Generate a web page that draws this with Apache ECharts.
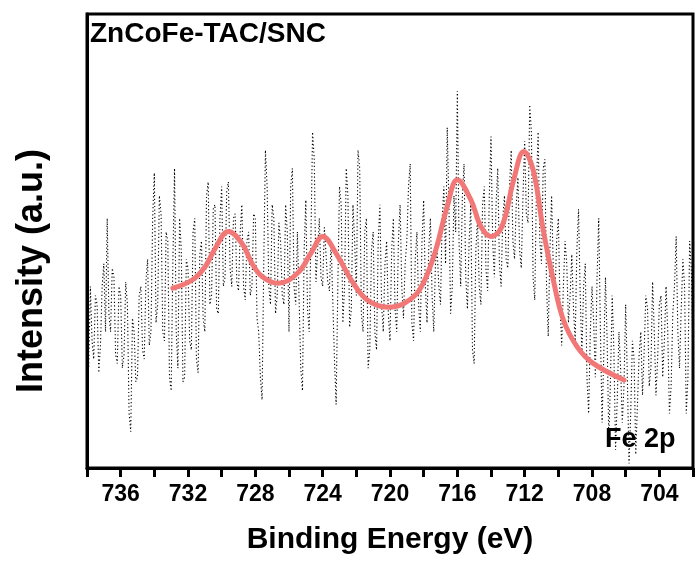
<!DOCTYPE html>
<html>
<head>
<meta charset="utf-8">
<script src="https://cdn.jsdelivr.net/npm/echarts@6/dist/echarts.min.js"></script>
<style>
  html, body { margin: 0; padding: 0; background: #fff; }
  #chart { width: 696px; height: 561px; }
</style>
</head>
<body>
<div id="chart"></div>
<script>
// Fe 2p XPS spectrum: raw counts sampled every 0.1 eV from 738.0 eV down to 702.0 eV
const rawStart = 738;
const rawStep = 0.1;
const rawIntensity = [
  32, 22, 40, 28, 24, 38, 36, 21,
  27, 40, 45, 30, 55, 34,
  30, 44, 42, 25, 23, 40, 38, 22,
  25, 41, 36, 12, 8, 33,
  30, 19, 20, 38, 40, 26, 24, 41,
  46, 27, 30, 55, 65, 32, 36, 60, 56, 30,
  28, 52, 50, 20, 17, 45, 66, 30, 22, 55, 48, 19, 20,
  46, 44, 28, 26, 52, 55, 24, 21, 47, 50, 33, 30,
  60, 63, 36, 38, 57, 58, 35, 34,
  55, 62, 40, 42, 61, 63, 44, 40, 55, 56, 41, 39,
  52, 58, 40, 37, 50, 52, 38, 40, 56, 55,
  33, 30, 20, 15, 45, 70, 62, 40, 36, 58,
  55, 34, 38, 54, 50, 38, 36,
  58, 52, 30, 62, 66, 40, 36, 52,
  52, 22, 17, 48, 59, 35, 30, 50,
  74, 68, 41, 48,
  55, 42, 40, 53, 53, 41, 39, 50,
  50, 24, 14, 40,
  62, 58, 32, 40, 66, 60, 31, 35,
  58, 50, 38, 70, 66, 34, 30, 52, 55, 22, 26, 48,
  52, 30, 26, 50, 58, 36, 30, 45, 50,
  34, 28, 48, 55, 35, 30, 50, 58,
  40, 33, 45, 50, 62, 67, 32, 28, 46,
  52, 36, 30, 50, 59, 40, 32, 48, 55,
  38, 30, 45, 48,
  40, 36, 55, 62, 45, 75, 58, 34,
  40, 60, 52, 83, 50,
  40, 60, 67, 42, 35, 50, 58, 26, 23, 48, 55, 40, 36, 58, 62, 44,
  39, 60, 73, 50, 42, 58, 66, 45, 40, 55, 60, 46,
  44, 62, 70, 50, 46, 58, 64, 48,
  44, 60, 72, 56, 54, 80, 74, 42,
  37, 62, 74, 50, 45, 66, 68, 40, 29, 48, 60, 44,
  38, 50, 55, 36, 27, 40, 50, 45, 32, 38, 47,
  35, 28, 48, 57, 38, 25, 40, 45, 20, 12, 30, 40,
  32, 20, 42, 55, 30, 10, 25, 42, 28, 6, 20, 38, 26, 4, 15, 30,
  22, 10, 18, 36, 20, 1, 12, 28, 24, 3, 14, 25,
  30, 16, 26, 38, 35, 18, 22, 41,
  30, 16, 24, 36, 38, 20, 28, 40, 30, 12, 18, 34,
  40, 51, 30,
  22, 35, 46, 40, 12, 20, 50, 44, 25
];

// Fitted envelope (binding energy in eV, intensity)
const fitEnergy = [
  732.9, 731.75, 730.97, 730.38, 729.6, 728.8, 728.2, 727.6, 726.65, 725.5,
  724.7, 724.0, 723.1, 722.3, 721.35, 720.1, 719.15, 718.25, 717.4, 716.6,
  716.0, 715.2, 714.6, 714.0, 713.35, 712.65, 712.05, 711.5, 710.9, 710.3,
  709.7, 708.9, 707.95, 706.1
];
const fitIntensity = [
  39.6, 41.4, 44.4, 48.4, 52.1, 49.5, 45.1, 42.2, 40.7, 42.9,
  47.3, 51.0, 46.6, 41.4, 37.0, 35.4, 36.3, 39.2, 46.6, 57.6,
  63.5, 59.1, 53.2, 51.0, 53.2, 63.5, 69.7, 65.7, 52.5, 41.4,
  32.6, 26.8, 23.1, 19.4
];

// Axis settings
const energyMin = 702;
const energyMax = 738;
const tickStep = 2;
const labelStep = 4;

const rawData = rawIntensity.map((v, i) => [+(rawStart - i * rawStep).toFixed(1), v]);
const fitData = fitEnergy.map((e, i) => [e, fitIntensity[i]]);

const FONT = '"Liberation Sans", Arial, sans-serif';
const chart = echarts.init(document.getElementById('chart'), null, { renderer: 'canvas' });

chart.setOption({
  backgroundColor: '#fff',
  animation: false,
  grid: {
    left: 87, right: -2, top: 14, bottom: 93,
    show: true, borderColor: '#000', borderWidth: 3, backgroundColor: 'transparent'
  },
  xAxis: [
    {
      type: 'value', min: energyMin, max: energyMax, interval: tickStep, inverse: true,
      position: 'bottom',
      name: 'Binding Energy (eV)', nameLocation: 'middle', nameGap: 57,
      nameTextStyle: { fontFamily: FONT, fontWeight: 'bold', fontSize: 30, color: '#000' },
      axisLine: { show: true, onZero: false, lineStyle: { color: '#000', width: 3 } },
      axisTick: {
        show: true, length: 9, lineStyle: { color: '#000', width: 3 },
        interval: (idx, val) => Math.round(val) % labelStep === 0
      },
      axisLabel: {
        margin: 15, fontFamily: FONT, fontWeight: 'bold', fontSize: 23, color: '#000',
        interval: (idx, val) => Math.round(val) % labelStep === 0,
        formatter: v => (Math.round(v) % labelStep === 0 ? String(v) : '')
      },
      splitLine: { show: false }
    },
    {
      type: 'value', min: energyMin, max: energyMax, interval: tickStep, inverse: true,
      position: 'bottom',
      axisLine: { show: false },
      axisTick: {
        show: true, length: 5, lineStyle: { color: '#000', width: 3 },
        interval: (idx, val) => Math.round(val) % labelStep !== 0 && val > energyMin && val < energyMax
      },
      axisLabel: { show: false },
      splitLine: { show: false }
    }
  ],
  yAxis: {
    type: 'value', min: 0, max: 100,
    axisLine: { show: true, lineStyle: { color: '#000', width: 3 } },
    axisTick: { show: false },
    axisLabel: { show: false },
    splitLine: { show: false }
  },
  graphic: [
    {
      type: 'text', x: 90, y: 34,
      style: { text: 'ZnCoFe-TAC/SNC', font: 'bold 28px ' + FONT, fill: '#000', align: 'left', verticalAlign: 'middle' },
      z: 100
    },
    {
      type: 'text', x: 605, y: 440,
      style: { text: 'Fe 2p', font: 'bold 27px ' + FONT, fill: '#000', align: 'left', verticalAlign: 'middle' },
      z: 100
    },
    {
      type: 'text', x: 32, y: 271, rotation: Math.PI / 2,
      style: { text: 'Intensity (a.u.)', font: 'bold 36px ' + FONT, fill: '#000', align: 'center', verticalAlign: 'middle' },
      z: 100
    }
  ],
  series: [
    {
      name: 'Raw', type: 'line', xAxisIndex: 0, data: rawData,
      showSymbol: false, symbol: 'none', clip: true,
      lineStyle: { color: '#000', width: 1.1, type: [1.2, 2.4] },
      z: 2
    },
    {
      name: 'Fit', type: 'line', xAxisIndex: 0, data: fitData,
      showSymbol: false, symbol: 'none', smooth: 0.4,
      lineStyle: { color: '#f27878', width: 5, cap: 'round' },
      z: 3
    }
  ]
});
</script>
</body>
</html>
